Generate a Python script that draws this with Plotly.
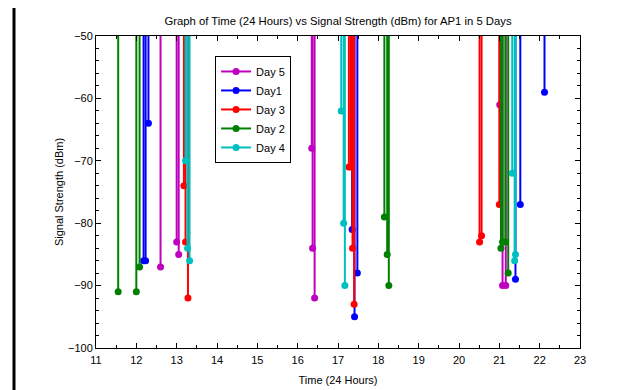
import plotly.graph_objects as go

# Data (time in hours, signal in dBm)
day5_t = [12.6, 13.0, 13.05, 16.35, 16.37, 16.42, 21.01, 21.08, 21.16]
day5_v = [-87, -83, -85, -68, -84, -92, -61, -90, -90]

day1_t = [12.18, 12.23, 12.3, 17.35, 17.41, 17.48, 21.4, 21.52, 22.12]
day1_v = [-86, -86, -64, -81, -95, -88, -89, -77, -59]

day3_t = [13.18, 13.22, 13.28, 17.27, 17.32, 17.36, 17.4, 20.51, 20.56, 21.0]
day3_v = [-74, -83, -92, -71, -71, -84, -93, -83, -82, -77]

day2_t = [11.55, 12.0, 12.08, 18.15, 18.22, 18.26, 21.04, 21.08, 21.15, 21.22]
day2_v = [-91, -91, -87, -79, -85, -90, -84, -83, -83, -88]

day4_t = [13.22, 13.27, 13.32, 17.08, 17.14, 17.17, 21.32, 21.38, 21.4]
day4_v = [-70, -84, -86, -62, -80, -90, -72, -86, -85]

series = [
    ("Day 5", day5_t, day5_v, "#BF00BF"),
    ("Day1", day1_t, day1_v, "#0000FF"),
    ("Day 3", day3_t, day3_v, "#FF0000"),
    ("Day 2", day2_t, day2_v, "#008000"),
    ("Day 4", day4_t, day4_v, "#00BFBF"),
]

baseline = 0

fig = go.Figure()
for name, ts, vs, col in series:
    xs, ys = [], []
    for t, v in zip(ts, vs):
        xs += [t, t, None]
        ys += [baseline, v, None]
    fig.add_trace(go.Scatter(
        x=xs, y=ys, mode="lines+markers", name=name,
        line=dict(color=col, width=2),
        marker=dict(color=col, size=7),
        cliponaxis=True,
    ))

axis_common = dict(
    showgrid=False, zeroline=False, showline=True, linecolor="black",
    linewidth=1, mirror="ticks", ticks="inside", ticklen=5,
    tickcolor="black", tickfont=dict(family="Arial", size=11, color="black"),
    automargin=False,
)

fig.update_layout(
    width=632, height=382,
    margin=dict(l=88, r=60, t=28, b=42),
    paper_bgcolor="white", plot_bgcolor="white",
    title=dict(text="Graph of Time (24 Hours) vs Signal Strength (dBm) for AP1 in 5 Days",
               x=0.5, xanchor="center", xref="paper", y=0.966, yanchor="middle",
               font=dict(family="Arial", size=11.3, color="black")),
    xaxis=dict(range=[11, 23], dtick=1, tick0=11, ticklabelstandoff=2,
               title=dict(text="Time (24 Hours)", font=dict(family="Arial", size=11, color="black"), standoff=11),
               minor=dict(dtick=0.5, ticks="inside", ticklen=3, tickcolor="black"),
               **axis_common),
    yaxis=dict(range=[-100, -50], dtick=10,
               title=dict(text="Signal Strength (dBm)", font=dict(family="Arial", size=11, color="black"), standoff=2),
               minor=dict(dtick=2, ticks="inside", ticklen=3, tickcolor="black"),
               **axis_common),
    legend=dict(x=0.246, y=0.936, xanchor="left", yanchor="top",
                bgcolor="white", bordercolor="black", borderwidth=1,
                font=dict(family="Arial", size=11, color="black"),
                itemwidth=30, tracegroupgap=0),
    showlegend=True,
)

# Outer frame lines of the image (left and top)
fig.add_shape(type="line", xref="paper", yref="paper",
              x0=-82/484, x1=-82/484, y0=-0.3, y1=1 + 30/312,
              line=dict(color="black", width=3))
fig.add_shape(type="line", xref="paper", yref="paper",
              x0=-82/484, x1=1.3, y0=1 + 30/312, y1=1 + 30/312,
              line=dict(color="black", width=3))

fig.write_html("out.html")
